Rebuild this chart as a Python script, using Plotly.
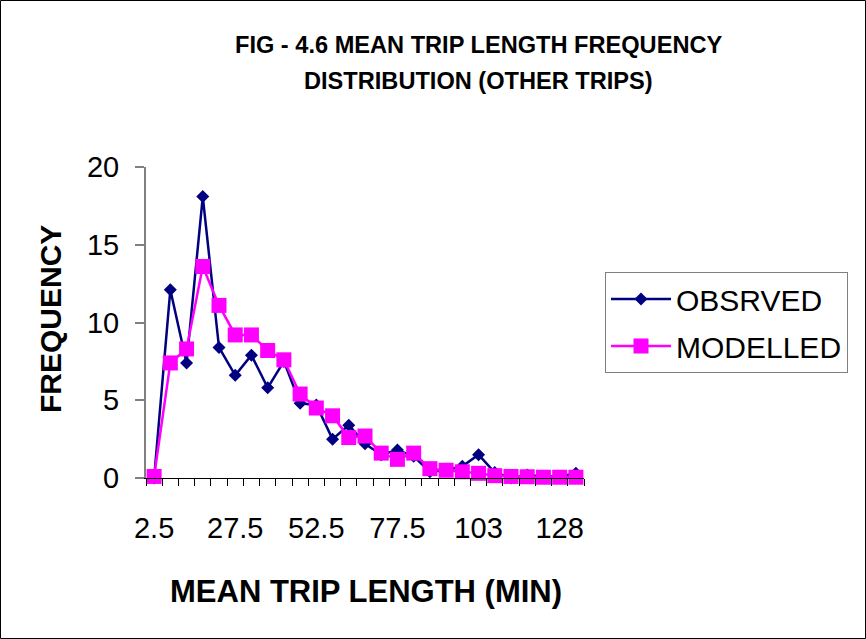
import plotly.graph_objects as go

W, H = 866, 639
L, R, T, B = 146, 282, 167, 161  # plot area margins in px

categories = [2.5 + 5 * i for i in range(27)]
tick_values = [2.5, 27.5, 52.5, 77.5, 102.5, 127.5]
tick_labels = ["2.5", "27.5", "52.5", "77.5", "103", "128"]
observed = [0, 12.1, 7.4, 18.1, 8.4, 6.6, 7.9, 5.8, 7.5, 4.8, 4.7, 2.5, 3.4, 2.2,
            1.5, 1.8, 1.4, 0.4, 0.5, 0.75, 1.5, 0.35, 0, 0.2, 0.1, 0.1, 0.3]
modelled = [0.1, 7.4, 8.3, 13.6, 11.1, 9.2, 9.2, 8.2, 7.6, 5.4, 4.5, 4.0, 2.6, 2.7,
            1.6, 1.2, 1.6, 0.6, 0.5, 0.4, 0.3, 0.15, 0.1, 0.08, 0.05, 0.05, 0.05]

pw, ph = W - L - R, H - T - B


def px(x):
    return (x - L) / pw


def py(y):
    return 1 - (y - T) / ph


FONT = "Liberation Sans, Arial, sans-serif"

fig = go.Figure()
fig.add_trace(go.Scatter(
    x=categories, y=observed, name="OBSRVED", mode="lines+markers",
    legendgroup="obs",
    line=dict(color="#000080", width=2.5),
    marker=dict(symbol="diamond", size=10, color="#000080"),
    cliponaxis=False,
))
fig.add_trace(go.Scatter(
    x=categories, y=modelled, name="MODELLED", mode="lines+markers",
    legendgroup="mod",
    line=dict(color="#FF00FF", width=2.5),
    marker=dict(symbol="square", size=15, color="#FF00FF"),
    cliponaxis=False,
))

fig.update_layout(
    width=W, height=H,
    margin=dict(l=L, r=R, t=T, b=B),
    paper_bgcolor="white", plot_bgcolor="white",
    font=dict(family=FONT, color="black"),
    showlegend=True,
    legend=dict(
        x=px(605), y=py(272), xanchor="left", yanchor="top",
        bordercolor="#808080", borderwidth=1, bgcolor="white",
        font=dict(size=30, family=FONT), itemwidth=60,
        traceorder="grouped", tracegroupgap=5,
    ),
    xaxis=dict(
        range=[0, 135], showgrid=False, zeroline=False,
        showline=True, linecolor="black", linewidth=1,
        tickmode="array", tickvals=tick_values, ticktext=tick_labels,
        ticks="", tickfont=dict(size=29, family=FONT),
        ticklabelstandoff=24,
        minor=dict(ticks="outside", tick0=0, dtick=5, ticklen=7,
                   tickcolor="black", tickwidth=1, showgrid=False),
    ),
    yaxis=dict(
        range=[0, 20], showgrid=False, zeroline=False,
        showline=True, linecolor="#808080", linewidth=2,
        tickmode="array", tickvals=[0, 5, 10, 15, 20],
        ticks="outside", ticklen=9, tickcolor="#808080", tickwidth=2,
        tickfont=dict(size=29, family=FONT),
        ticklabelstandoff=10,
    ),
    annotations=[
        dict(text="<b>FIG - 4.6 MEAN TRIP LENGTH FREQUENCY</b>", x=px(478), y=py(45),
             xref="paper", yref="paper", showarrow=False, xanchor="center", yanchor="middle",
             font=dict(size=23.6, family=FONT)),
        dict(text="<b>DISTRIBUTION (OTHER TRIPS)</b>", x=px(478), y=py(81),
             xref="paper", yref="paper", showarrow=False, xanchor="center", yanchor="middle",
             font=dict(size=23.6, family=FONT)),
        dict(text="<b>FREQUENCY</b>", x=px(50), y=py(319), textangle=-90,
             xref="paper", yref="paper", showarrow=False, xanchor="center", yanchor="middle",
             font=dict(size=30, family=FONT)),
        dict(text="<b>MEAN TRIP LENGTH (MIN)</b>", x=px(366), y=py(591),
             xref="paper", yref="paper", showarrow=False, xanchor="center", yanchor="middle",
             font=dict(size=31, family=FONT)),
    ],
    shapes=[
        dict(type="rect", xref="paper", yref="paper",
             x0=px(0.5), x1=px(W - 0.5), y0=py(0.5), y1=py(H - 0.5),
             line=dict(color="black", width=1), fillcolor="rgba(0,0,0,0)", layer="below"),
    ],
)

fig.write_html("out.html")
